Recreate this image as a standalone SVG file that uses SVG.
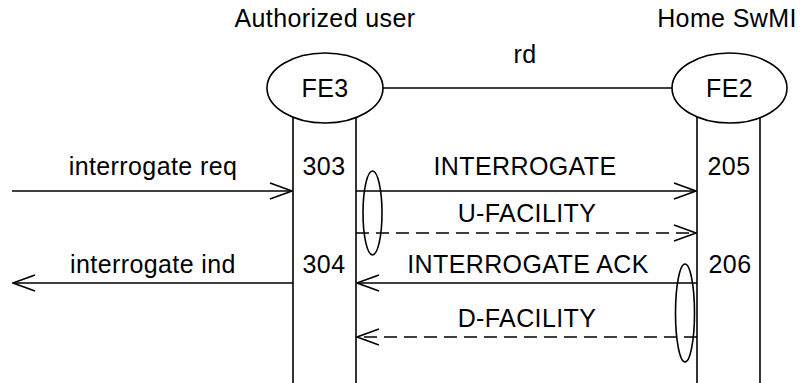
<svg xmlns="http://www.w3.org/2000/svg" width="806" height="383" viewBox="0 0 806 383">
<style>
text{font-family:"Liberation Sans",Arial,sans-serif;font-size:25px;fill:#000;letter-spacing:0.4px}
.c{text-anchor:middle}
.ln{stroke:#000;stroke-width:1.6;fill:none}
.d{stroke-dasharray:13 7}
.ov{stroke:#000;stroke-width:1.6;fill:#fff}
.og{stroke:#000;stroke-width:1.6;fill:none}
</style>
<defs>
<marker id="ah" viewBox="0 0 24 18" refX="23" refY="9" markerWidth="24" markerHeight="18" markerUnits="userSpaceOnUse" orient="auto">
<path d="M1,1 L23,9 L1,17" fill="none" stroke="#000" stroke-width="1.6"/>
</marker>
</defs>
<g id="lifelines">
<line class="ln" x1="293" y1="110" x2="293" y2="383"/>
<line class="ln" x1="356" y1="110" x2="356" y2="383"/>
<line class="ln" x1="697" y1="110" x2="697" y2="383"/>
<line class="ln" x1="760" y1="110" x2="760" y2="383"/>
</g>
<g id="connectors">
<line class="ln" x1="383" y1="88" x2="672" y2="88"/>
<line class="ln" x1="12" y1="191" x2="292" y2="191" marker-end="url(#ah)"/>
<line class="ln" x1="356" y1="191" x2="696" y2="191" marker-end="url(#ah)"/>
<line class="ln d" x1="356" y1="233" x2="696" y2="233" marker-end="url(#ah)"/>
<line class="ln" x1="293" y1="283" x2="13" y2="283" marker-end="url(#ah)"/>
<line class="ln" x1="697" y1="283" x2="357" y2="283" marker-end="url(#ah)"/>
<line class="ln d" x1="697" y1="337" x2="357" y2="337" marker-end="url(#ah)"/>
</g>
<g id="FE3">
<ellipse class="ov" cx="325" cy="88" rx="58" ry="35"/>
<text class="c" x="325" y="97">FE3</text>
<text class="c" x="325" y="27">Authorized user</text>
</g>
<g id="FE2">
<ellipse class="ov" cx="729.5" cy="88" rx="57.5" ry="35"/>
<text class="c" x="729.5" y="97">FE2</text>
<text class="c" x="727" y="27">Home SwMI</text>
</g>
<g id="labels">
<text class="c" x="525" y="63">rd</text>
<text class="c" x="153" y="175">interrogate req</text>
<text class="c" x="324" y="175">303</text>
<text class="c" x="525" y="175">INTERROGATE</text>
<text class="c" x="729" y="175">205</text>
<text class="c" x="527" y="222">U-FACILITY</text>
<text class="c" x="153" y="273">interrogate ind</text>
<text class="c" x="324" y="273">304</text>
<text class="c" x="528" y="273">INTERROGATE ACK</text>
<text class="c" x="730" y="273">206</text>
<text class="c" x="527" y="327">D-FACILITY</text>
</g>
<g id="groupings">
<ellipse class="og" cx="372.5" cy="213" rx="9.5" ry="42"/>
<ellipse class="og" cx="685" cy="313" rx="9.5" ry="49"/>
</g>
</svg>
